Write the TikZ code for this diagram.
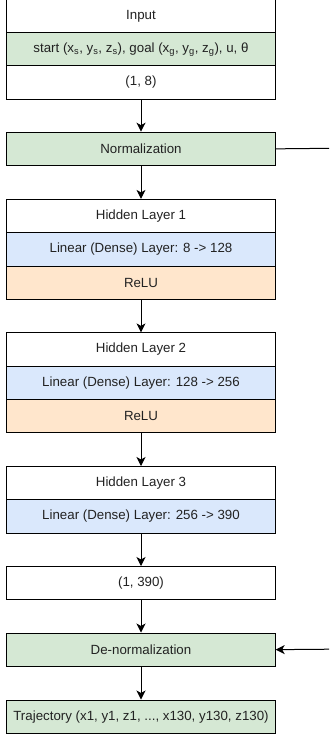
\documentclass[tikz,border=0pt]{standalone}
\usepackage{fontspec}
\setmainfont{Liberation Sans}
\usetikzlibrary{arrows.meta}

\definecolor{cgreen}{HTML}{D5E8D4}
\definecolor{cblue}{HTML}{DAE8FC}
\definecolor{corange}{HTML}{FFE6CC}
\definecolor{ctext}{HTML}{222222}

\tikzset{
  cell/.style={draw=black, line width=1pt, minimum width=268.3pt, minimum height=33.3pt,
    inner sep=0pt, anchor=north, font=\fontsize{13.3}{15}\selectfont, text=ctext},
  plain/.style={cell, fill=white},
  greencell/.style={cell, fill=cgreen},
  bluecell/.style={cell, fill=cblue},
  orangecell/.style={cell, fill=corange},
  flow/.style={line width=1pt, -{Stealth[length=9pt,width=9pt,inset=2.5pt]}},
  link/.style={line width=1pt}
}

\begin{document}
\begin{tikzpicture}[x=1pt,y=-1pt]
  \useasboundingbox (0,0) rectangle (329,738);
  \fill[white] (0,0) rectangle (329,738);

  % input block
  \node[plain]     (in1) at (141,-1)    {Input};
  \node[greencell] (in2) at (141,32.2)  {start (x\textsubscript{s}, y\textsubscript{s}, z\textsubscript{s}), goal (x\textsubscript{g}, y\textsubscript{g}, z\textsubscript{g}), u, θ};
  \node[plain]     (in3) at (141,65.3)  {(1, 8)};

  % normalization
  \node[greencell] (norm) at (141,131.7) {Normalization};

  % hidden layer 1
  \node[plain]      (h1a) at (141,198.9) {Hidden Layer 1};
  \node[bluecell]   (h1b) at (141,232.2) {Linear (Dense) Layer: 8 -> 128};
  \node[orangecell] (h1c) at (141,265.5) {ReLU};

  % hidden layer 2
  \node[plain]      (h2a) at (141,332.4) {Hidden Layer 2};
  \node[bluecell]   (h2b) at (141,365.7) {Linear (Dense) Layer: 128 -> 256};
  \node[orangecell] (h2c) at (141,399.0) {ReLU};

  % hidden layer 3
  \node[plain]    (h3a) at (141,466.0) {Hidden Layer 3};
  \node[bluecell] (h3b) at (141,499.3) {Linear (Dense) Layer: 256 -> 390};

  % output shape
  \node[plain] (out) at (141,566.0) {(1, 390)};

  % de-normalization and result
  \node[greencell] (denorm) at (141,632.5) {De-normalization};
  \node[greencell] (traj)   at (141,699.5) {Trajectory (x1, y1, z1, ..., x130, y130, z130)};

  % free ends of the side links
  \coordinate (normout) at (329,148.3);
  \coordinate (denormin) at (329,649.2);

  % connectors
  \draw[flow] (in3.south) -- (norm.north);
  \draw[flow] (norm.south) -- (h1a.north);
  \draw[flow] (h1c.south) -- (h2a.north);
  \draw[flow] (h2c.south) -- (h3a.north);
  \draw[flow] (h3b.south) -- (out.north);
  \draw[flow] (out.south) -- (denorm.north);
  \draw[flow] (denorm.south) -- (traj.north);
  \draw[link] (norm.east) -- (normout);
  \draw[flow] (denormin) -- (denorm.east);
\end{tikzpicture}
\end{document}
